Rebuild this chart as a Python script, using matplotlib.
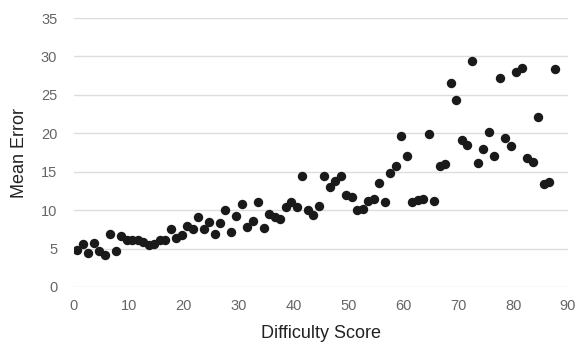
import matplotlib
matplotlib.use('Agg')
import matplotlib.pyplot as plt

difficulty = [0.6, 1.6, 2.6, 3.6, 4.6, 5.6, 6.6, 7.6, 8.6, 9.6,
              10.6, 11.6, 12.6, 13.6, 14.6, 15.6, 16.6, 17.6, 18.6, 19.6,
              20.6, 21.6, 22.6, 23.6, 24.6, 25.6, 26.6, 27.6, 28.6, 29.6,
              30.6, 31.6, 32.6, 33.6, 34.6, 35.6, 36.6, 37.6, 38.6, 39.6,
              40.6, 41.6, 42.6, 43.6, 44.6, 45.6, 46.6, 47.6, 48.6, 49.6,
              50.6, 51.6, 52.6, 53.6, 54.6, 55.6, 56.6, 57.6, 58.6, 59.6,
              60.6, 61.6, 62.6, 63.6, 64.6, 65.6, 66.6, 67.6, 68.6, 69.6,
              70.6, 71.6, 72.6, 73.6, 74.6, 75.6, 76.6, 77.6, 78.6, 79.6,
              80.6, 81.6, 82.6, 83.6, 84.6, 85.6, 86.6, 87.6]
mean_error = [4.8, 5.6, 4.4, 5.7, 4.7, 4.1, 6.9, 4.7, 6.7, 6.1,
              6.1, 6.1, 5.9, 5.4, 5.6, 6.1, 6.1, 7.6, 6.4, 6.8,
              8.0, 7.6, 9.1, 7.6, 8.5, 6.9, 8.3, 10.0, 7.2, 9.3,
              10.8, 7.8, 8.6, 11.0, 7.7, 9.5, 9.1, 8.9, 10.4, 11.1,
              10.4, 14.5, 10.0, 9.4, 10.6, 14.5, 13.0, 13.8, 14.5, 12.0,
              11.7, 10.0, 10.1, 11.2, 11.5, 13.5, 11.0, 14.8, 15.8, 19.7,
              17.0, 11.0, 11.3, 11.4, 19.9, 11.2, 15.8, 16.0, 26.6, 24.3,
              19.1, 18.5, 29.4, 16.1, 17.9, 20.2, 17.1, 27.2, 19.4, 18.3,
              28.0, 28.5, 16.8, 16.3, 22.1, 13.4, 13.6, 28.3]

plt.rcParams['font.family'] = ['Liberation Sans', 'DejaVu Sans']

fig = plt.figure(figsize=(5.77, 3.42), dpi=100)
ax = fig.add_axes([74 / 577, 55 / 342, 494 / 577, 269 / 342])

ax.scatter(difficulty, mean_error, s=46, color='#1a1a1a', zorder=3, linewidths=0)

ax.set_xlim(0, 90)
ax.set_ylim(0, 35)
ax.set_xticks(range(0, 91, 10))
ax.set_yticks(range(0, 36, 5))
ax.yaxis.grid(True, color='#dddddd', linewidth=1)
ax.set_axisbelow(True)
for s in ax.spines.values():
    s.set_visible(False)
ax.tick_params(length=0, labelsize=10.5, colors='#666666')
ax.tick_params(axis='y', pad=12)
ax.tick_params(axis='x', pad=9)
ax.set_xlabel('Difficulty Score', fontsize=13, color='#222222', labelpad=8)
ax.set_ylabel('Mean Error', fontsize=13, color='#222222', labelpad=9)

fig.savefig('out.png', dpi=100)
